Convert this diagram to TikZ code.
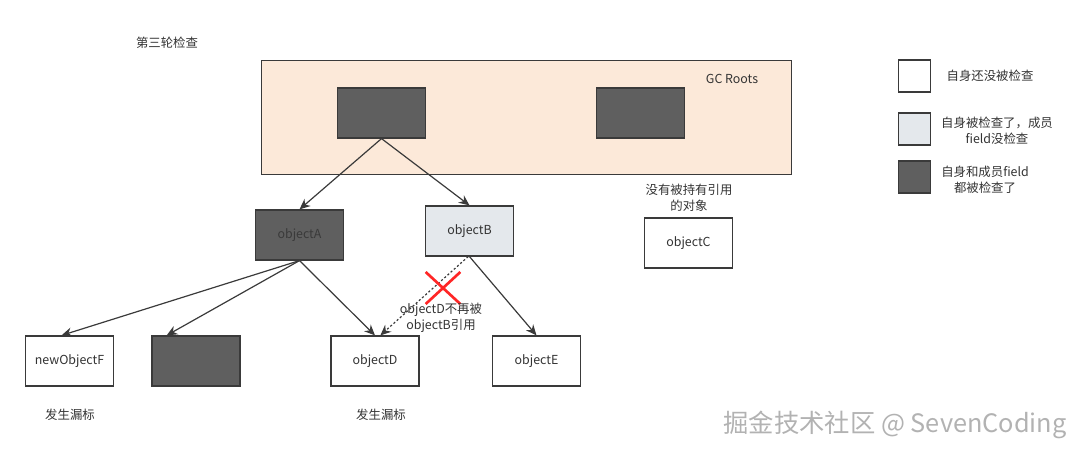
\documentclass[tikz,border=0pt]{standalone}
\usepackage{fontspec}
\setmainfont{Noto Sans CJK SC}
\usetikzlibrary{arrows.meta,shapes.misc}
\definecolor{rootbg}{HTML}{FCE9D9}
\definecolor{darkbox}{HTML}{5F5F5F}
\definecolor{lightbox}{HTML}{E4E8EC}
\definecolor{edgegray}{HTML}{3A3A3A}
\definecolor{txtgray}{HTML}{333333}
\begin{document}
\begin{tikzpicture}[x=0.75pt, y=-0.75pt,
  font=\fontsize{9.3}{12}\selectfont, text=txtgray,
  obj/.style={draw=edgegray, line width=0.9pt, minimum width=66pt, minimum height=37.5pt, inner sep=0pt},
  objwhite/.style={obj, fill=white},
  objlight/.style={obj, fill=lightbox},
  objdark/.style={obj, fill=darkbox, text=edgegray},
  legbox/.style={draw=edgegray, line width=0.9pt, minimum size=24pt, inner sep=0pt},
  lbl/.style={align=center, inner sep=0pt},
  ref/.style={-{Stealth[length=8pt,width=7pt]}, draw=edgegray, line width=0.9pt}]
\useasboundingbox (0,0) rectangle (1080,456);

\node[lbl] (title) at (167,43) {第三轮检查};

% GC roots
\node[draw=edgegray, line width=0.9pt, fill=rootbg, minimum width=398pt, minimum height=86pt] (roots) at (526.5,117.5) {};
\node[lbl] (rootlbl) at (732,79) {GC Roots};
\node[objdark] (root1) at (381.5,113) {};
\node[objdark] (root2) at (640.5,113) {};

% objects
\node[objdark] (objA) at (299.5,235) {objectA};
\node[objlight] (objB) at (469.5,231) {objectB};
\node[objwhite] (objC) at (688.5,243) {objectC};
\node[lbl] (objClbl) at (689,198) {没有被持有引用\\的对象};
\node[objwhite] (objF) at (69.5,361) {newObjectF};
\node[objdark] (objG) at (196,361) {};
\node[objwhite] (objD) at (375,361) {objectD};
\node[objwhite] (objE) at (536.5,361) {objectE};
\node[lbl] (leakF) at (70,415) {发生漏标};
\node[lbl] (leakD) at (381,415) {发生漏标};

% references
\draw[ref] (root1.south) -- (objA.north);
\draw[ref] (root1.south) -- (objB.north);
\draw[ref] (objA.south) -- ([xshift=-6pt]objF.north);
\draw[ref] (objA.south) -- ([xshift=-22pt]objG.north);
\draw[ref] (objA.south) -- (objD.north);
\draw[ref] (objB.south) -- (objE.north);
\draw[ref, dash pattern=on 1.6pt off 1.6pt] ([xshift=-1pt]objB.south) -- ([xshift=4pt]objD.north);
\node[cross out, draw=red!85!white, line width=2pt, minimum width=24pt, minimum height=22pt] (cut) at (443,288) {};
\node[lbl] (cutlbl) at (441,318) {objectD不再被\\objectB引用};

% legend
\node[legbox, fill=white] (leg1) at (914.5,76) {};
\node[lbl] (leg1lbl) at (990,76) {自身还没被检查};
\node[legbox, fill=lightbox] (leg2) at (914.5,129) {};
\node[lbl] (leg2lbl) at (997,131) {自身被检查了，成员\\field没检查};
\node[legbox, fill=darkbox] (leg3) at (914.5,177) {};
\node[lbl] (leg3lbl) at (985,180) {自身和成员field\\都被检查了};

\node[lbl, text=gray!60, font=\fontsize{19}{22}\selectfont] (mark) at (895,425) {掘金技术社区 @ SevenCoding};
\end{tikzpicture}
\end{document}
